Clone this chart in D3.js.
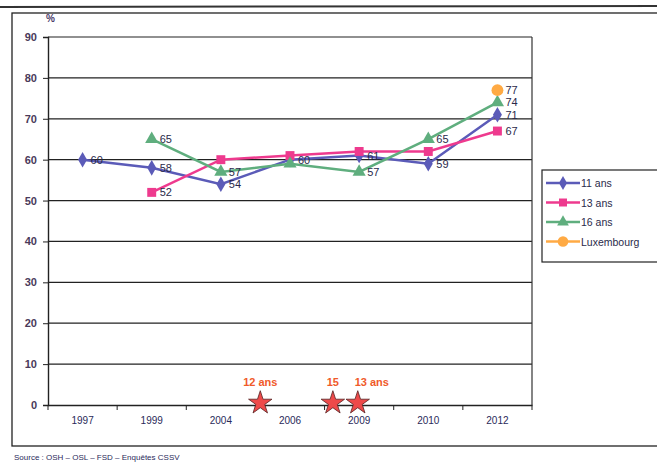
<!DOCTYPE html>
<html><head><meta charset="utf-8">
<script src="https://cdn.jsdelivr.net/npm/d3@7"></script>
<style>body{margin:0;background:#fff;}svg{display:block;font-family:"Liberation Sans",Arial,sans-serif;}</style>
</head><body>
<svg id="c" width="657" height="464"></svg>
<script>
const categories = ["1997","1999","2004","2006","2009","2010","2012"];
const yTicks = [0,10,20,30,40,50,60,70,80,90];
const s11 = [60,58,54,60,61,59,71];
const s13 = [null,52,60,61,62,62,67];
const s16 = [null,65,57,59,57,65,74];
const sLux = [null,null,null,null,null,null,77];
const labels11 = [60,58,54,60,61,59,71];
const labels13 = [null,52,null,null,null,null,67];
const labels16 = [null,65,57,null,57,65,74];
const labelsLux = [null,null,null,null,null,null,77];
const starPos = [3.07,4.12,4.48];
const starLabels = ["12 ans","15","13 ans"];

const series = [
  {name:"11 ans", values:s11, labels:labels11, color:"#5b5bb8", shape:d3.symbolDiamond, size:70},
  {name:"13 ans", values:s13, labels:labels13, color:"#ee3a8e", shape:d3.symbolSquare, size:80},
  {name:"16 ans", values:s16, labels:labels16, color:"#5fae7e", shape:d3.symbolTriangle, size:75},
  {name:"Luxembourg", values:sLux, labels:labelsLux, color:"#ffaa44", shape:d3.symbolCircle, size:110}
];

const svg = d3.select("#c");
svg.append("line").attr("x1",0).attr("x2",657).attr("y1",7).attr("y2",6).attr("stroke","#333").attr("stroke-width",2);
// outer frame
svg.append("rect").attr("x",12).attr("y",13).attr("width",660).attr("height",433)
  .attr("fill","none").attr("stroke","#222").attr("stroke-width",1.3);

const L=48,R=532,T=37,B=405;
const x = d3.scaleBand().domain(categories).range([L,R]).padding(0);
const xi = d3.scaleLinear().domain([0,categories.length]).range([L,R]);
const y = d3.scaleLinear().domain([0,90]).range([B,T]);

// gridlines
svg.append("g").selectAll("line").data(yTicks.filter(d=>d>0)).join("line")
  .attr("x1",L).attr("x2",R).attr("y1",d=>y(d)).attr("y2",d=>y(d))
  .attr("stroke","#222").attr("stroke-width",1.2);
svg.append("line").attr("x1",R).attr("x2",R).attr("y1",T).attr("y2",B).attr("stroke","#333").attr("stroke-width",1.2);

const ya = svg.append("g").attr("transform",`translate(${L},0)`)
  .call(d3.axisLeft(y).tickValues(yTicks).tickSize(5).tickPadding(6));
ya.select(".domain").attr("stroke","#222").attr("stroke-width",1.4);
ya.selectAll("line").attr("stroke","#222");
ya.selectAll("text").attr("font-size",11).attr("font-weight","bold").attr("fill","#4a3a5a");

const xa = svg.append("g").attr("transform",`translate(0,${B})`)
  .call(d3.axisBottom(x).tickSize(0).tickPadding(12));
xa.select(".domain").attr("stroke","#222").attr("stroke-width",1.4);
xa.selectAll("text").attr("font-size",10).attr("fill","#2a2a5a");
svg.append("g").selectAll("line").data(d3.range(categories.length+1)).join("line")
  .attr("x1",d=>xi(d)).attr("x2",d=>xi(d)).attr("y1",B).attr("y2",B+5).attr("stroke","#222");

svg.append("text").attr("x",46).attr("y",22).attr("font-size",10).attr("font-weight","bold").attr("fill","#4a3a6a").text("%");

series.forEach(s=>{
  const pts = categories.map((c,i)=>({c,v:s.values[i],l:s.labels[i]})).filter(d=>d.v!=null);
  const line = d3.line().x(d=>x(d.c)+x.bandwidth()/2).y(d=>y(d.v));
  svg.append("path").datum(pts).attr("d",line).attr("fill","none").attr("stroke",s.color).attr("stroke-width",2.5);
  svg.append("g").selectAll("path").data(pts).join("path")
    .attr("transform",d=>`translate(${x(d.c)+x.bandwidth()/2},${y(d.v)})`)
    .attr("d",d3.symbol().type(s.shape).size(s.size)).attr("fill",s.color);
});
series.forEach(s=>{
  const pts = categories.map((c,i)=>({c,v:s.values[i],l:s.labels[i]})).filter(d=>d.l!=null);
  svg.append("g").selectAll("text").data(pts).join("text")
    .attr("x",d=>x(d.c)+x.bandwidth()/2+8).attr("y",d=>y(d.v)+4)
    .attr("font-size",11).attr("fill","#2a2a4a").text(d=>d.l);
});

// stars
const star = d3.symbol().type(d3.symbolStar).size(170);
svg.append("g").selectAll("path").data(starPos).join("path")
  .attr("transform",d=>`translate(${xi(d)},${B-2})`).attr("d",star)
  .attr("fill","#ee4a4a").attr("stroke","#552222").attr("stroke-width",0.8);
svg.append("g").selectAll("text").data(starPos).join("text")
  .attr("x",(d,i)=>xi(d)+(i==2?14:0)).attr("y",B-19).attr("text-anchor","middle")
  .attr("font-size",11).attr("font-weight","bold").attr("fill","#f05a2a").text((d,i)=>starLabels[i]);

// legend
const lg = svg.append("g");
lg.append("rect").attr("x",542).attr("y",170).attr("width",130).attr("height",92)
  .attr("fill","#fff").attr("stroke","#222").attr("stroke-width",1.2);
series.forEach((s,i)=>{
  const yy = 183+i*19.5;
  lg.append("line").attr("x1",546).attr("x2",580).attr("y1",yy).attr("y2",yy).attr("stroke",s.color).attr("stroke-width",2.5);
  lg.append("path").attr("transform",`translate(563,${yy})`).attr("d",d3.symbol().type(s.shape).size(s.size*0.8)).attr("fill",s.color);
  lg.append("text").attr("x",581).attr("y",yy+4).attr("font-size",10.5).attr("fill","#2a2a4a").text(s.name);
});

svg.append("text").attr("x",14).attr("y",460).attr("font-size",8).attr("fill","#2a2a5a")
  .text("Source : OSH – OSL – FSD – Enquêtes CSSV");
</script>
</body></html>
